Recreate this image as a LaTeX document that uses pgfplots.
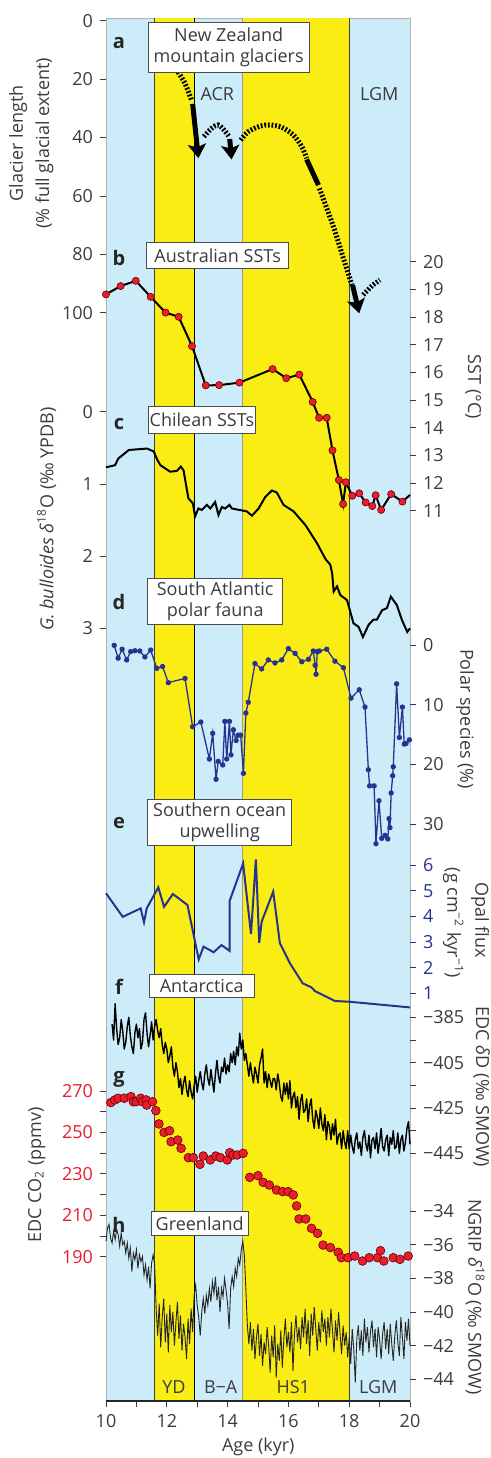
\documentclass[border=0pt]{standalone}
\usepackage{fontspec}
\setmainfont{Open Sans}
\usepackage{pgfplots}
\pgfplotsset{compat=1.18}
\usetikzlibrary{arrows.meta}
\definecolor{bgblue}{RGB}{205,236,249}
\definecolor{ylw}{RGB}{250,237,20}
\definecolor{dblue}{RGB}{40,50,145}
\definecolor{co2red}{RGB}{232,30,45}
\definecolor{txtgray}{RGB}{60,60,60}
\newcommand{\tk}{\fontsize{9}{9}\selectfont}
\newcommand{\lb}{\fontsize{9}{10.5}\selectfont}
\newcommand{\pl}{\fontsize{10}{10}\selectfont\bfseries}
\pgfplotsset{
 base/.style={at={(53pt,-700.5pt)}, anchor=south west, scale only axis, width=152pt, height=691.5pt, xmin=10, xmax=20, clip=false},
 ovl/.style={base, axis x line=none, y axis line style={draw=none}, tick align=outside, major tick length=3pt, minor tick length=3pt, yticklabel style={font=\tk, text=txtgray}, ytick style={txtgray, line width=0.4pt}, minor tick style={txtgray, line width=0.4pt}, /pgf/number format/assume math mode=true, scaled y ticks=false},
 lefty/.style={ovl, axis y line*=left},
 righty/.style={ovl, axis y line*=right},
 hatch/.style={line width=2.5pt, dash pattern=on 0.9pt off 0.9pt, black, smooth},
 solidarr/.style={line width=2.5pt, black, -{Stealth[length=7pt,width=9pt,inset=1.5pt]}},
}
\begin{document}
\begin{tikzpicture}
% base axis: background bands and x axis
\begin{axis}[base, ymin=0, ymax=1, axis background/.style={fill=bgblue}, ytick=\empty,
  xtick={10,12,...,20}, minor xtick={11,13,...,19}, xtick pos=left, tick align=outside,
  major tick length=3pt, minor tick length=3pt, axis line style={draw=gray!60, line width=0.4pt},
  xticklabel style={font=\tk, text=txtgray}, xtick style={txtgray, line width=0.4pt}, minor tick style={txtgray, line width=0.4pt},
  /pgf/number format/assume math mode=true]
\addplot[fill=ylw, draw=none] coordinates {(11.6,0)(12.9,0)(12.9,1)(11.6,1)} -- cycle;
\addplot[fill=ylw, draw=none] coordinates {(14.5,0)(18.0,0)(18.0,1)(14.5,1)} -- cycle;
\addplot[black!75, line width=0.5pt] coordinates {(11.6,0)(11.6,1)};
\addplot[black, line width=0.6pt] coordinates {(12.9,0)(12.9,1)};
\addplot[gray!80, line width=0.5pt] coordinates {(14.5,0)(14.5,1)};
\addplot[black!75, line width=0.5pt] coordinates {(18.0,0)(18.0,1)};
\addplot[black!85, line width=0.6pt] coordinates {(10,0)(20,0)};
\end{axis}
% a: glacier length
\begin{axis}[lefty, y dir=reverse, ymin=-0.92, ymax=472.7, ytick={0,20,...,100}]
\addplot[hatch] coordinates {(12.37,17.6)(12.6,21.5)(12.82,27.4)};
\addplot[solidarr] coordinates {(12.85,28.5)(13.04,47.1)};
\addplot[hatch] coordinates {(13.22,39.7)(13.47,36.9)(13.69,35.7)(13.88,37.4)(14.06,39.9)};
\addplot[solidarr] coordinates {(14.07,40.5)(14.13,47.5)};
\addplot[hatch] coordinates {(14.43,40.9)(14.68,38.0)(15.07,36.1)(15.39,35.7)(15.78,36.5)(16.16,39.1)(16.44,43.1)(16.6,47.1)};
\addplot[line width=2.5pt, black] coordinates {(16.6,47.5)(16.99,56.3)};
\addplot[hatch] coordinates {(17.02,57.4)(17.48,70.5)(17.81,81.4)(18.09,90.5)};
\addplot[solidarr] coordinates {(18.11,90.5)(18.33,100.2)};
\addplot[hatch] coordinates {(18.46,93.9)(18.75,90.8)(19.01,88.8)};
\end{axis}
% b: Australian SSTs
\begin{axis}[righty, ymin=-21.18, ymax=28.81, ytick={11,12,...,20}]
\addplot[black, line width=1pt, no marks] coordinates {(19.75,11.33)(20.0,11.57)};
\addplot[black, line width=1pt, mark=*, mark size=1.8pt, mark options={fill=co2red, draw=red!40!black, line width=0.3pt}] coordinates {
(10.00,18.82)(10.48,19.12)(10.98,19.31)(11.47,18.73)(11.96,18.16)(12.39,18.01)(12.83,16.95)(13.28,15.53)(13.72,15.54)(14.39,15.63)(15.48,16.12)(15.93,15.79)(16.36,15.92)(16.80,14.93)(17.01,14.36)(17.26,14.36)(17.45,13.18)(17.66,12.11)(17.80,11.24)(17.89,12.03)(18.10,11.54)(18.33,11.63)(18.54,11.30)(18.76,11.17)(18.87,11.56)(19.05,11.03)(19.38,11.60)(19.75,11.33)};
\end{axis}
% c: Chilean SSTs
\begin{axis}[lefty, y dir=reverse, ymin=-5.453, ymax=13.702, ytick={0,1,2,3}]
\addplot[black, line width=1pt, no marks] coordinates {
(10.0,0.77)(10.3,0.74)(10.4,0.65)(10.75,0.53)(11.35,0.51)(11.57,0.55)(11.68,0.66)(11.79,0.74)(12.11,0.83)(12.33,0.82)(12.46,0.76)(12.55,0.81)(12.71,1.20)(12.86,1.27)(12.93,1.45)(13.04,1.34)(13.15,1.36)(13.32,1.29)(13.43,1.34)(13.59,1.25)(13.70,1.43)(13.81,1.32)(13.92,1.34)(14.06,1.29)(14.14,1.34)(14.63,1.38)(14.80,1.44)(15.02,1.34)(15.24,1.18)(15.46,1.09)(15.62,1.12)(15.84,1.29)(16.17,1.38)(16.56,1.57)(16.94,1.82)(17.22,2.04)(17.38,2.12)(17.44,2.24)(17.49,2.49)(17.60,2.42)(17.71,2.54)(17.93,2.61)(18.14,2.93)(18.31,2.98)(18.45,3.12)(18.64,2.95)(18.80,2.88)(18.91,2.88)(19.08,2.75)(19.24,2.72)(19.37,2.56)(19.57,2.68)(19.73,2.88)(19.91,3.05)(20.0,3.0)};
\end{axis}
% d: polar species
\begin{axis}[righty, y dir=reverse, ymin=-105.08, ymax=126.70, ytick={0,10,20,30}, ytick style={dblue, line width=0.4pt}]
\addplot[dblue, line width=0.65pt, mark=*, mark size=1pt, mark options={fill=dblue, draw=dblue}] coordinates {
(10.27,0.06)(10.40,2.2)(10.53,0.7)(10.68,2.5)(10.81,1.1)(10.95,0.95)(11.11,1.0)(11.28,2.0)(11.47,0.84)(11.67,3.9)(11.86,3.6)(12.05,6.3)(12.60,5.6)(12.85,13.7)(13.12,12.9)(13.40,19.1)(13.51,14.8)(13.62,22.5)(13.69,19.5)(13.84,20.1)(13.91,12.8)(13.97,19.1)(14.06,12.8)(14.11,18.4)(14.19,14.2)(14.28,16.0)(14.35,15.1)(14.43,15.1)(14.52,21.5)(14.60,11.4)(14.68,9.6)(14.90,3.1)(15.12,4.0)(15.34,2.5)(15.56,3.0)(15.78,2.5)(16.00,0.6)(16.22,1.4)(16.44,2.8)(16.66,2.4)(16.82,1.0)(16.88,3.4)(16.91,4.9)(16.95,1.1)(17.02,1.0)(17.26,0.7)(17.53,2.7)(17.81,3.8)(18.06,8.9)(18.33,7.5)(18.52,10.4)(18.63,20.9)(18.67,23.6)(18.82,23.6)(18.88,33.3)(18.98,26.1)(19.07,32.4)(19.18,31.9)(19.27,32.5)(19.31,29.1)(19.34,30.6)(19.38,24.8)(19.43,21.9)(19.45,20.4)(19.56,6.5)(19.65,15.5)(19.75,10.4)(19.81,16.6)(19.87,16.5)(19.98,15.9)};
\end{axis}
% e: opal flux
\begin{axis}[righty, ymin=-14.89, ymax=39.01, ytick={1,2,...,6}, ytick style={dblue, line width=0.4pt}, yticklabel style={font=\tk, text=dblue}]
\addplot[dblue, line width=1pt, no marks] coordinates {
(10.0,4.90)(10.55,3.98)(11.14,4.31)(11.25,3.77)(11.34,4.31)(11.72,5.13)(11.91,4.37)(12.20,4.87)(12.68,4.44)(13.05,2.32)(13.21,2.82)(13.54,2.60)(13.80,2.88)(14.07,2.65)(14.07,4.61)(14.51,6.06)(14.77,3.31)(14.93,6.22)(15.04,2.97)(15.12,3.79)(15.50,4.96)(15.72,2.95)(16.05,2.17)(16.47,1.39)(16.76,1.23)(16.87,1.09)(17.53,0.70)(18.02,0.67)(20.0,0.45)};
\end{axis}
% f: EDC dD
\begin{axis}[righty, ymin=-554.28, ymax=55.87, ytick={-445,-425,-405,-385}, minor ytick={-435,-415,-395}, yticklabels={−445,−425,−405,−385}]
\addplot[black, line width=0.7pt, no marks, line join=round] coordinates {
(10.20,-388)(10.25,-395)(10.30,-379)(10.35,-390)(10.40,-397)(10.45,-394)(10.50,-386)(10.55,-391)(10.60,-399)(10.65,-396)(10.70,-389)(10.75,-385)(10.80,-393)(10.85,-398)(10.90,-401)(10.95,-392)(11.00,-388)(11.05,-394)(11.10,-390)(11.15,-399)(11.20,-396)(11.25,-386)(11.30,-383)(11.35,-392)(11.40,-398)(11.45,-393)(11.50,-387)(11.55,-395)(11.60,-389)(11.65,-386)(11.70,-391)(11.75,-394)(11.80,-390)(11.85,-397)(11.90,-401)(11.95,-396)(12.00,-399)(12.05,-405)(12.10,-402)(12.15,-398)(12.20,-407)(12.25,-411)(12.30,-405)(12.35,-409)(12.40,-416)(12.45,-412)(12.50,-419)(12.55,-414)(12.60,-411)(12.65,-417)(12.70,-420)(12.75,-413)(12.80,-418)(12.85,-421)(12.90,-415)(12.95,-411)(13.00,-418)(13.05,-413)(13.10,-409)(13.15,-414)(13.20,-417)(13.25,-410)(13.30,-406)(13.35,-412)(13.40,-415)(13.45,-408)(13.50,-413)(13.55,-418)(13.60,-410)(13.65,-404)(13.70,-411)(13.75,-414)(13.80,-407)(13.85,-409)(13.90,-403)(13.95,-410)(14.00,-406)(14.05,-409)(14.10,-401)(14.15,-405)(14.20,-400)(14.25,-406)(14.30,-398)(14.35,-402)(14.40,-392)(14.45,-399)(14.50,-395)(14.55,-404)(14.60,-401)(14.65,-406)(14.70,-411)(14.75,-405)(14.80,-410)(14.85,-414)(14.90,-407)(14.95,-410)(15.00,-414)(15.05,-406)(15.10,-403)(15.15,-399)(15.20,-414)(15.25,-409)(15.30,-416)(15.35,-410)(15.40,-413)(15.45,-416)(15.50,-412)(15.55,-412)(15.60,-417)(15.65,-410)(15.70,-414)(15.75,-420)(15.80,-422)(15.85,-414)(15.90,-419)(15.95,-414)(16.00,-421)(16.05,-413)(16.10,-425)(16.15,-420)(16.20,-418)(16.25,-425)(16.30,-420)(16.35,-430)(16.40,-422)(16.45,-419)(16.50,-427)(16.55,-426)(16.60,-421)(16.65,-431)(16.70,-424)(16.75,-421)(16.80,-430)(16.85,-434)(16.90,-426)(16.95,-429)(17.00,-434)(17.05,-425)(17.10,-432)(17.15,-435)(17.20,-428)(17.25,-439)(17.30,-431)(17.35,-433)(17.40,-439)(17.45,-432)(17.50,-437)(17.55,-430)(17.60,-441)(17.65,-437)(17.70,-436)(17.75,-443)(17.80,-435)(17.85,-440)(17.90,-443)(17.95,-435)(18.00,-443)(18.05,-437)(18.10,-442)(18.15,-445)(18.20,-439)(18.25,-436)(18.30,-443)(18.35,-440)(18.40,-446)(18.45,-438)(18.50,-435)(18.55,-441)(18.60,-444)(18.65,-437)(18.70,-447)(18.75,-439)(18.80,-438)(18.85,-443)(18.90,-436)(18.95,-445)(19.00,-440)(19.05,-434)(19.10,-442)(19.15,-444)(19.20,-439)(19.25,-437)(19.30,-446)(19.35,-438)(19.40,-441)(19.45,-435)(19.50,-443)(19.55,-442)(19.60,-436)(19.65,-445)(19.70,-439)(19.75,-437)(19.80,-444)(19.85,-440)(19.90,-434)(19.95,-431)(20.00,-441)};
\end{axis}
% g: EDC CO2
\begin{axis}[lefty, ymin=120.3, ymax=788.1, ytick={190,200,...,270}, yticklabels={190,,210,,230,,250,,270}, yticklabel style={font=\tk, text=co2red}]
\addplot[only marks, mark=*, mark size=2.2pt, mark options={fill=co2red, draw=red!40!black, line width=0.3pt}] coordinates {
(10.16,264.4)(10.29,265.7)(10.40,266.5)(10.60,266.5)(10.82,267.3)(10.90,264.8)(10.99,264.8)(11.14,266.5)(11.20,264.8)(11.32,265.7)(11.34,263.2)(11.53,264.8)(11.64,260.5)(11.74,254.1)(11.91,250.0)(12.09,250.8)(12.14,245.5)(12.36,246.3)(12.47,242.3)(12.71,237.8)(12.87,237.8)(13.09,234.6)(13.20,238.6)(13.43,236.7)(13.61,238.6)(13.76,237.8)(13.99,236.7)(14.07,240.2)(14.18,239.1)(14.31,239.1)(14.51,239.9)(14.73,228.3)(15.00,229.1)(15.17,225.9)(15.37,224.6)(15.61,222.2)(15.81,221.4)(15.99,221.4)(16.16,219.8)(16.27,214.5)(16.35,208.2)(16.57,208.2)(16.76,203.7)(16.96,201.3)(17.14,195.6)(17.38,194.4)(17.64,192.1)(17.74,189.5)(17.96,189.5)(18.18,190.3)(18.44,187.9)(18.66,189.5)(18.93,189.5)(19.03,192.9)(19.14,187.9)(19.45,189.5)(19.67,188.7)(19.94,190.3)};
\end{axis}
% h: NGRIP d18O
\begin{axis}[righty, ymin=-45.29, ymax=36.89, ytick={-44,-42,...,-34}, yticklabels={−44,−42,−40,−38,−36,−34}]
\addplot[black!85, line width=0.45pt, no marks] coordinates {
(10.00,-35.8)(10.05,-35.0)(10.10,-34.8)(10.15,-35.6)(10.20,-35.9)(10.25,-35.2)(10.30,-35.7)(10.35,-35.1)(10.40,-35.4)(10.45,-36.1)(10.50,-35.3)(10.55,-36.0)(10.60,-35.8)(10.65,-36.5)(10.70,-35.9)(10.75,-36.8)(10.80,-36.2)(10.85,-37.6)(10.90,-36.5)(10.95,-36.9)(11.00,-36.3)(11.05,-37.4)(11.10,-36.6)(11.15,-37.0)(11.20,-36.7)(11.25,-37.8)(11.30,-37.2)(11.35,-38.1)(11.40,-37.3)(11.45,-38.6)(11.50,-37.1)(11.55,-36.6)(11.60,-37.2)(11.65,-39.8)(11.70,-41.4)(11.75,-39.5)(11.80,-42.1)(11.85,-40.3)(11.90,-39.2)(11.95,-41.8)(12.00,-40.1)(12.05,-42.4)(12.10,-39.6)(12.15,-41.2)(12.20,-40.0)(12.25,-42.0)(12.30,-40.6)(12.35,-39.4)(12.40,-41.6)(12.45,-40.2)(12.50,-42.3)(12.55,-40.7)(12.60,-41.5)(12.65,-42.8)(12.70,-40.4)(12.75,-41.9)(12.80,-39.8)(12.85,-41.2)(12.90,-39.0)(12.95,-38.4)(13.00,-39.6)(13.05,-40.3)(13.10,-41.4)(13.15,-40.0)(13.20,-39.2)(13.25,-40.1)(13.30,-39.0)(13.35,-39.6)(13.40,-38.6)(13.45,-39.4)(13.50,-38.2)(13.55,-38.9)(13.60,-37.9)(13.65,-39.3)(13.70,-38.5)(13.75,-40.0)(13.80,-38.6)(13.85,-39.1)(13.90,-38.0)(13.95,-38.7)(14.00,-39.5)(14.05,-41.0)(14.10,-38.6)(14.15,-37.9)(14.20,-38.5)(14.25,-37.4)(14.30,-37.9)(14.35,-36.8)(14.40,-37.2)(14.45,-36.3)(14.50,-35.8)(14.55,-36.6)(14.60,-38.6)(14.65,-40.8)(14.70,-41.9)(14.75,-40.6)(14.80,-42.3)(14.85,-41.0)(14.90,-42.8)(14.95,-41.5)(15.00,-40.7)(15.05,-42.6)(15.10,-41.3)(15.15,-43.2)(15.20,-41.8)(15.25,-42.5)(15.30,-40.9)(15.35,-42.0)(15.40,-43.6)(15.45,-41.4)(15.50,-42.7)(15.55,-40.8)(15.60,-43.9)(15.65,-41.9)(15.70,-42.9)(15.75,-41.1)(15.80,-43.3)(15.85,-41.6)(15.90,-40.4)(15.95,-42.1)(16.00,-41.2)(16.05,-42.4)(16.10,-40.6)(16.15,-43.5)(16.20,-41.3)(16.25,-40.2)(16.30,-41.8)(16.35,-40.9)(16.40,-42.2)(16.45,-40.3)(16.50,-41.5)(16.55,-39.8)(16.60,-41.9)(16.65,-40.5)(16.70,-42.6)(16.75,-40.1)(16.80,-41.4)(16.85,-39.7)(16.90,-41.0)(16.95,-42.3)(17.00,-40.6)(17.05,-41.8)(17.10,-39.9)(17.15,-41.2)(17.20,-40.4)(17.25,-42.0)(17.30,-40.3)(17.35,-41.5)(17.40,-39.8)(17.45,-41.1)(17.50,-42.4)(17.55,-40.5)(17.60,-41.7)(17.65,-40.0)(17.70,-41.3)(17.75,-42.5)(17.80,-40.8)(17.85,-42.0)(17.90,-41.2)(17.95,-42.7)(18.00,-41.5)(18.05,-43.1)(18.10,-41.0)(18.15,-42.2)(18.20,-44.2)(18.25,-41.6)(18.30,-40.8)(18.35,-42.3)(18.40,-41.1)(18.45,-42.6)(18.50,-40.4)(18.55,-41.8)(18.60,-40.9)(18.65,-42.4)(18.70,-41.2)(18.75,-40.5)(18.80,-42.1)(18.85,-41.0)(18.90,-42.7)(18.95,-40.9)(19.00,-41.6)(19.05,-42.8)(19.10,-41.3)(19.15,-40.6)(19.20,-42.2)(19.25,-41.0)(19.30,-42.5)(19.35,-40.7)(19.40,-41.9)(19.45,-42.9)(19.50,-41.4)(19.55,-40.5)(19.60,-41.8)(19.65,-42.6)(19.70,-40.3)(19.75,-41.5)(19.80,-42.8)(19.85,-40.6)(19.90,-41.7)(19.95,-40.4)(20.00,-42.0)};
\end{axis}
% labels and boxes (1 px = 0.5 pt, y downward)
\begin{scope}[x=0.5pt, y=-0.5pt, every node/.style={inner sep=0pt, text=txtgray}]
\tikzset{bx/.style={draw=black!70, line width=0.5pt, fill=white, align=center, font=\lb, text=txtgray}}
\node[bx, minimum width=80.3pt, minimum height=24.8pt] at (228.7,47.5) {New Zealand\\mountain glaciers};
\node[bx, minimum width=71pt, minimum height=13.2pt] at (217.7,255.5) {Australian SSTs};
\node[bx, minimum width=53.7pt, minimum height=13.3pt] at (202,420) {Chilean SSTs};
\node[bx, minimum width=67.5pt, minimum height=23pt] at (215.2,601.3) {South Atlantic\\polar fauna};
\node[bx, minimum width=72pt, minimum height=23pt] at (219.7,822) {Southern ocean\\upwelling};
\node[bx, minimum width=52.7pt, minimum height=11.5pt] at (201.7,985.8) {Antarctica};
\node[bx, minimum width=48.7pt, minimum height=11.7pt] at (199.7,1223.3) {Greenland};
\foreach \l/\y in {a/42.7, b/258.3, c/424, d/601.7, e/823.3, f/987.3, g/1079.3, h/1225}
  \node[font=\pl, text=black!85] at (119,\y) {\l};
\node[font=\lb] at (217.3,94) {ACR};
\node[font=\lb] at (379.3,94) {LGM};
\node[font=\lb] at (174,1387) {YD};
\node[font=\lb] at (220.7,1387) {B−A};
\node[font=\lb] at (293.3,1387) {HS1};
\node[font=\lb] at (378.3,1387) {LGM};
\node[font=\lb] at (258.3,1447) {Age (kyr)};
\node[font=\lb, rotate=90] at (18.3,143.3) {Glacier length};
\node[font=\lb, rotate=90] at (44.3,143.3) {(\% full glacial extent)};
\node[font=\lb, rotate=90] at (46.7,519) {\textit{G. bulloides} \textit{δ}\textsuperscript{18}O (‰ YPDB)};
\node[font=\lb, rotate=90] at (36.7,1175) {EDC CO\textsubscript{2} (ppmv)};
\node[font=\lb, rotate=-90] at (473.3,386.7) {SST (°C)};
\node[font=\lb, rotate=-90] at (465,719) {Polar species (\%)};
\node[font=\lb, rotate=-90] at (480,920) {Opal flux};
\node[font=\lb, rotate=-90] at (453.3,923) {(g cm\textsuperscript{−2} kyr\textsuperscript{−1})};
\node[font=\lb, rotate=-90] at (481.7,1087) {EDC \textit{δ}D (‰ SMOW)};
\node[font=\lb, rotate=-90] at (475,1296.7) {NGRIP \textit{δ}\textsuperscript{18}O (‰ SMOW)};
\end{scope}
\pgfresetboundingbox
\path[use as bounding box] (0,0) rectangle (245.5pt,-729pt);
\end{tikzpicture}
\end{document}
